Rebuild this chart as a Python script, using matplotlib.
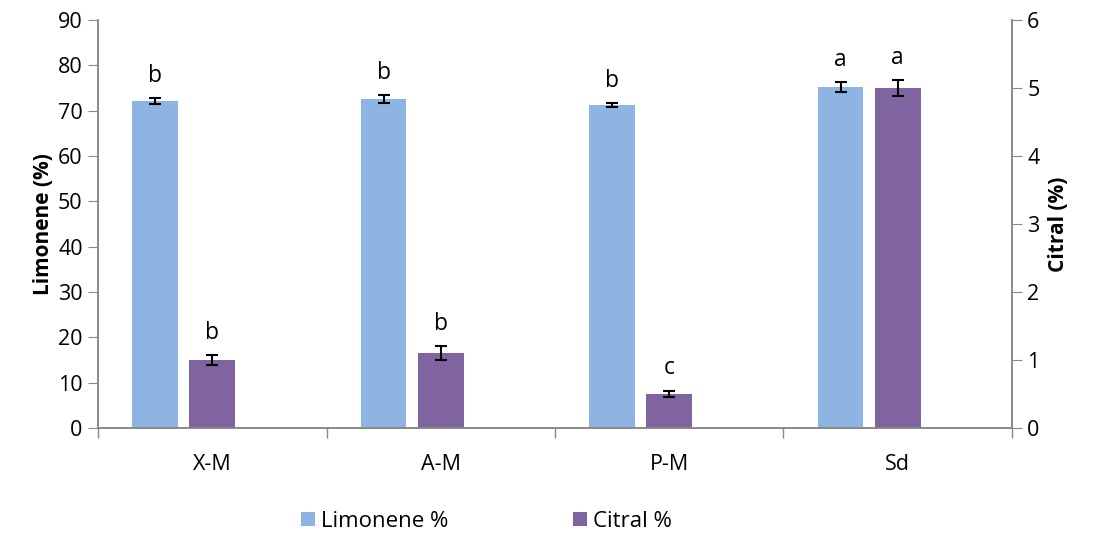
import matplotlib
matplotlib.use("Agg")
import matplotlib.pyplot as plt
import numpy as np
from matplotlib.patches import Patch

categories = ["X-M", "A-M", "P-M", "Sd"]
limonene = [72.1, 72.6, 71.3, 75.3]
limonene_err = [0.7, 0.9, 0.5, 1.1]
citral = [1.0, 1.1, 0.5, 5.0]
citral_err = [0.07, 0.1, 0.05, 0.12]
limonene_letters = ["b", "b", "b", "a"]
citral_letters = ["b", "b", "c", "a"]

plt.rcParams['font.family'] = ['Open Sans', 'DejaVu Sans']

fig = plt.figure(figsize=(10.94, 5.35), dpi=100)
ax = fig.add_axes([0.0896, 0.2, 0.8354, 0.7626])
ax2 = ax.twinx()

x = np.arange(len(categories))
w = 0.2
lc = "#8EB4E3"
cc = "#8064A2"
gray = "#898989"

ax.bar(x - 0.25, limonene, w, color=lc, zorder=2)
ax.errorbar(x - 0.25, limonene, yerr=limonene_err, fmt="none", ecolor="black",
            elinewidth=1.5, capsize=4, capthick=1.5, zorder=3)
ax2.bar(x, citral, w, color=cc, zorder=2)
ax2.errorbar(x, citral, yerr=citral_err, fmt="none", ecolor="black",
             elinewidth=1.5, capsize=4, capthick=1.5, zorder=3)

for i in range(len(categories)):
    ax.text(x[i] - 0.25, limonene[i] + limonene_err[i] + 2.2, limonene_letters[i],
            ha="center", va="bottom", fontsize=16.5)
    ax2.text(x[i], citral[i] + citral_err[i] + 0.15, citral_letters[i],
             ha="center", va="bottom", fontsize=16.5)

ax.set_xlim(-0.5, len(categories) - 0.5)
ax.set_ylim(0, 90)
ax2.set_ylim(0, 6)
ax.set_yticks(np.arange(0, 91, 10))
ax2.set_yticks(np.arange(0, 7, 1))

ax.set_xticks(x)
ax.set_xticklabels(categories, fontsize=15.5)
ax.set_xticks(np.arange(-0.5, len(categories), 1), minor=True)
ax.tick_params(axis="x", which="major", length=0, pad=19)
ax.tick_params(axis="x", which="minor", length=7, color=gray, width=1)
ax.tick_params(axis="y", labelsize=15.5, length=7, color=gray, pad=4)
ax2.tick_params(axis="y", labelsize=15.5, length=7, color=gray, pad=4)

for a in (ax, ax2):
    for s in ("top",):
        a.spines[s].set_visible(False)
    for s in ("left", "right", "bottom"):
        a.spines[s].set_color(gray)
        a.spines[s].set_linewidth(1.2)

ax.set_ylabel("Limonene (%)", fontsize=15, fontweight="bold", labelpad=3)
ax2.set_ylabel("Citral (%)", fontsize=15, fontweight="bold", labelpad=6)

handles = [Patch(facecolor=lc, label="Limonene %"), Patch(facecolor=cc, label="Citral %")]
fig.legend(handles=handles, loc="center", bbox_to_anchor=(0.445, 0.025), ncol=2,
           frameon=False, fontsize=16, handlelength=0.6, handleheight=0.6,
           handletextpad=0.3, columnspacing=5.6)

fig.savefig("out.png", dpi=100)
